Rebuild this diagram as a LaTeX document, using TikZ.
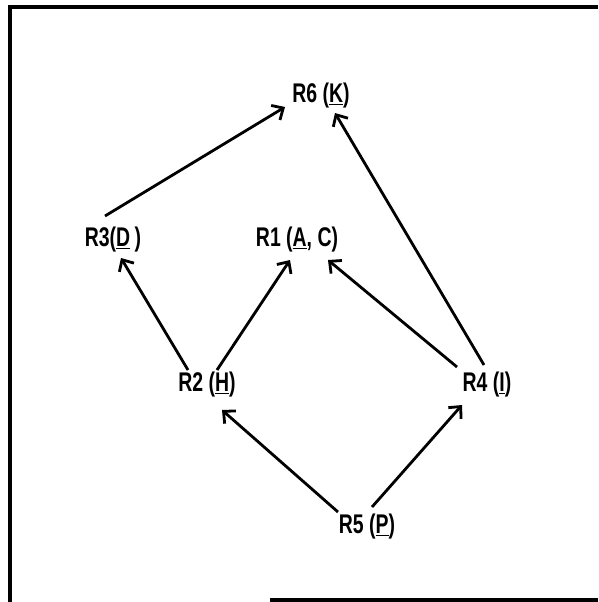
\documentclass[tikz,border=0pt]{standalone}
\usepackage{fontspec}
\setmainfont{Liberation Sans}[FakeStretch=0.72]
\usepackage{tikz}
\usetikzlibrary{arrows.meta}

\begin{document}
\begin{tikzpicture}[x=1pt,y=-1pt,
  rule/.style={font=\fontsize{27}{30}\selectfont\bfseries,inner sep=0pt},
  link/.style={line width=2.8pt,-{Straight Barb[length=9pt,width=17pt,line width=2.8pt]}},
  frame/.style={line width=3.5pt}
]
\useasboundingbox (0,0) rectangle (598,602);
\draw[frame] (10,602) -- (10,7) -- (598,7);
\draw[frame] (270,600) -- (598,600);
\node[rule] (r6) at (321,96) {R6 (\underline{K})};
\node[rule] (r3) at (113,240) {R3(\underline{D}\,)};
\node[rule] (r1) at (297,240) {R1 (\underline{A}, C)};
\node[rule] (r2) at (207,385) {R2 (\underline{H})};
\node[rule] (r4) at (487,385) {R4 (\underline{I})};
\node[rule] (r5) at (367,527) {R5 (\underline{P})};
\draw[link] ([shift={(-8,-24)}]r3.center) -- ([shift={(-36,11)}]r6.center);
\draw[link] ([shift={(-3,-20)}]r4.center) -- ([shift={(14,17)}]r6.center);
\draw[link] ([shift={(-19,-15)}]r2.center) -- ([shift={(8,18)}]r3.center);
\draw[link] ([shift={(10,-15)}]r2.center) -- ([shift={(-7,20)}]r1.center);
\draw[link] ([shift={(-30,-18)}]r4.center) -- ([shift={(31,20)}]r1.center);
\draw[link] ([shift={(-29,-15)}]r5.center) -- ([shift={(15,25)}]r2.center);
\draw[link] ([shift={(5,-20)}]r5.center) -- ([shift={(-25,20)}]r4.center);
\end{tikzpicture}
\end{document}
